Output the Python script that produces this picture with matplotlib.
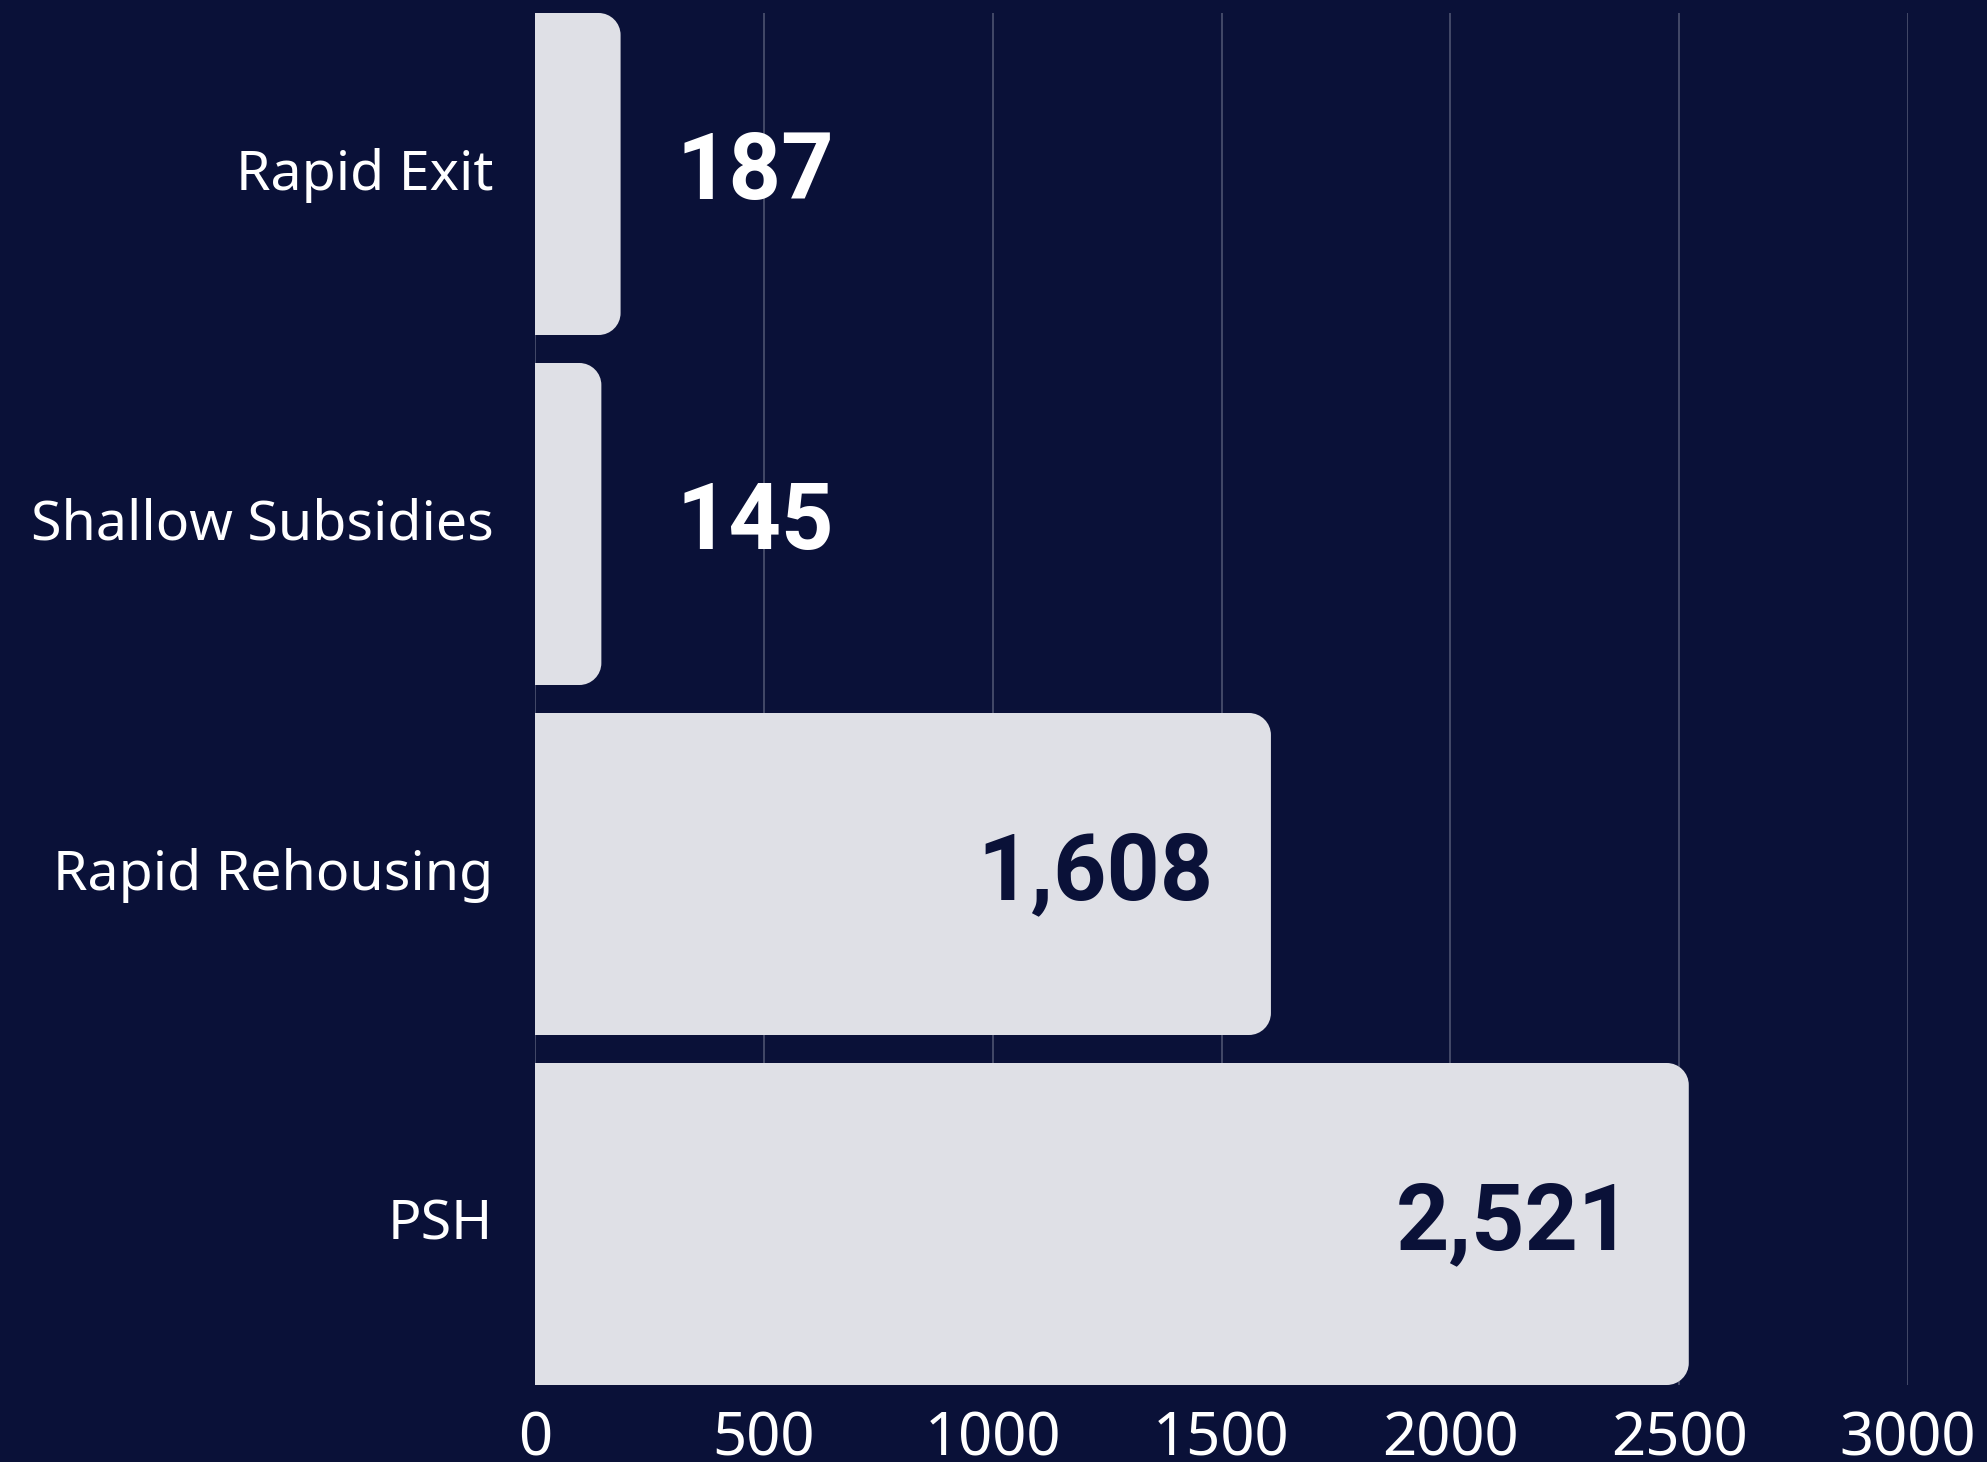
import matplotlib.pyplot as plt
import numpy as np
import matplotlib.transforms as mtransforms
from matplotlib.path import Path
from matplotlib.patches import PathPatch

# data
categories = ['Rapid Exit', 'Shallow Subsidies', 'Rapid Rehousing', 'PSH']
values = [187, 145, 1608, 2521]
xticks = [0, 500, 1000, 1500, 2000, 2500, 3000]

bg = '#0a1138'
bar_color = '#dfe0e6'
grid_color = '#474d6b'

plt.rcParams['font.family'] = ['Noto Sans', 'DejaVu Sans']

W, H = 1987, 1462
fig = plt.figure(figsize=(W / 100, H / 100), dpi=100, facecolor=bg)
ax = fig.add_axes([535 / W, 1 - 1385 / H, (1908 - 535) / W, (1385 - 13) / H])
ax.set_facecolor(bg)

y = np.arange(len(categories))
bar_h = 0.92
bars = ax.barh(y, values, height=bar_h, color=bar_color, zorder=2)
ax.set_xlim(0, 3000)
ax.set_ylim(len(categories) - 1 + bar_h / 2, -bar_h / 2)


def rounded_right(x0, y0, w, h, rx, ry):
    k = 0.5523
    x1, y1 = x0 + w, y0 + h
    verts = [(x0, y0), (x1 - rx, y0),
             (x1 - rx + k * rx, y0), (x1, y0 + ry - k * ry), (x1, y0 + ry),
             (x1, y1 - ry),
             (x1, y1 - ry + k * ry), (x1 - rx + k * rx, y1), (x1 - rx, y1),
             (x0, y1), (x0, y0)]
    codes = [Path.MOVETO, Path.LINETO,
             Path.CURVE4, Path.CURVE4, Path.CURVE4,
             Path.LINETO,
             Path.CURVE4, Path.CURVE4, Path.CURVE4,
             Path.LINETO, Path.CLOSEPOLY]
    return Path(verts, codes)


# corner radius ~22px converted to data units
rx = 22 * 3000 / (1908 - 535)
ry = 22 * (len(categories) - 1 + bar_h) / (1385 - 13)
for b in bars:
    b.set_visible(False)
    p = rounded_right(b.get_x(), b.get_y(), b.get_width(), b.get_height(), rx, ry)
    ax.add_patch(PathPatch(p, facecolor=bar_color, edgecolor='none', zorder=2))

for yi, v in zip(y, values):
    txt = f'{v:,}'
    if v > 1000:
        ax.annotate(txt, (v, yi), xytext=(-41, 0), textcoords='offset points',
                    ha='right', va='center', fontsize=67, fontweight='bold',
                    family='Roboto', color=bg, zorder=3)
    else:
        ax.text(310, yi, txt, ha='left', va='center', fontsize=66,
                fontweight='bold', family='Roboto', color='white', zorder=3)

ax.set_xticks(xticks)
ax.set_xticklabels([str(t) for t in xticks])
ax.set_yticks(y)
ax.set_yticklabels(categories)
ax.tick_params(axis='x', colors='white', labelsize=43, length=0, pad=18)
ax.tick_params(axis='y', colors='white', labelsize=40, length=0, pad=30)
shift = mtransforms.ScaledTranslation(0, 5 / 100, fig.dpi_scale_trans)
for lab in ax.get_yticklabels():
    lab.set_va('center_baseline')
    lab.set_transform(lab.get_transform() + shift)

ax.xaxis.grid(True, color=grid_color, linewidth=1.3, zorder=1)
ax.set_axisbelow(True)
for s in ax.spines.values():
    s.set_visible(False)

fig.savefig('out.png', dpi=100, facecolor=bg)
